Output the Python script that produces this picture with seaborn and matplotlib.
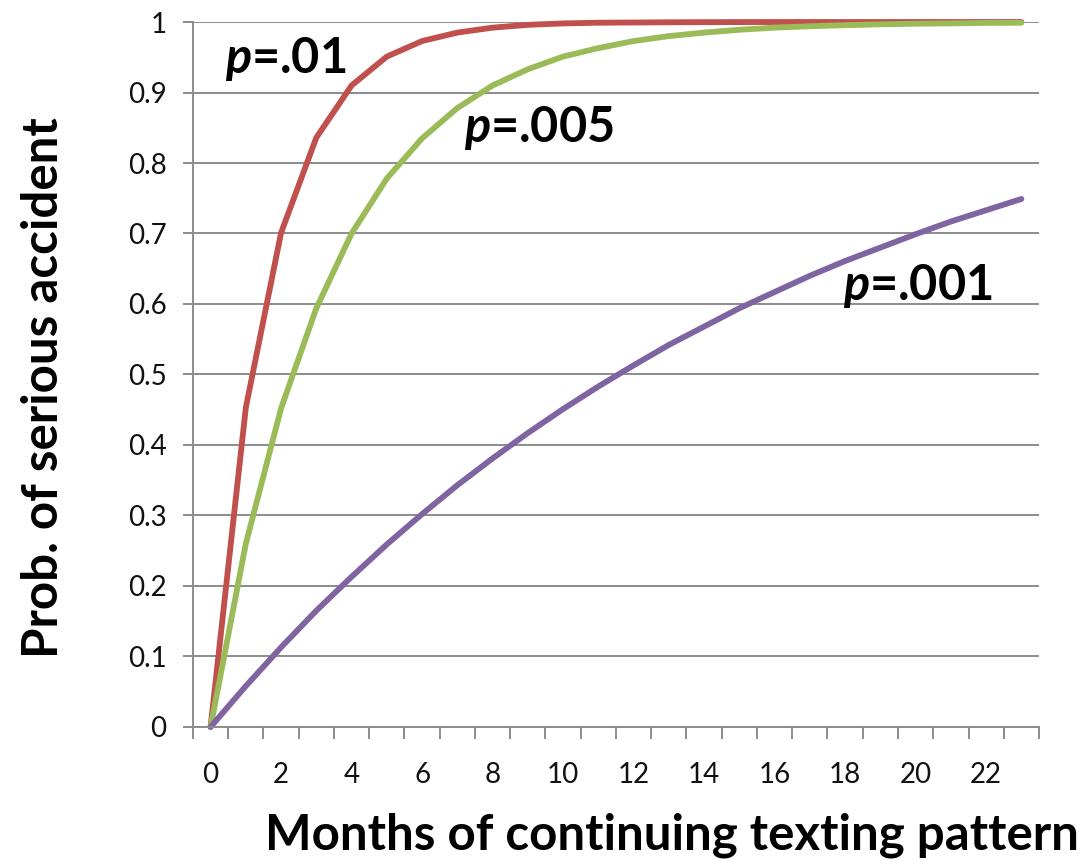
import numpy as np
import pandas as pd
import matplotlib
matplotlib.use("Agg")
import matplotlib.pyplot as plt
import seaborn as sns

months = list(range(24))
p_01 = [0.0, 0.453, 0.701, 0.836, 0.910, 0.951, 0.973, 0.985, 0.992, 0.996, 0.998, 0.999,
        0.9993, 0.9996, 0.9998, 0.9999, 1.0, 1.0, 1.0, 1.0, 1.0, 1.0, 1.0, 1.0]
p_005 = [0.0, 0.260, 0.452, 0.594, 0.700, 0.778, 0.835, 0.878, 0.910, 0.933, 0.951, 0.963,
         0.973, 0.980, 0.985, 0.989, 0.992, 0.994, 0.9955, 0.9967, 0.9976, 0.998, 0.9987, 0.999]
p_001 = [0.0, 0.058, 0.113, 0.165, 0.213, 0.259, 0.302, 0.343, 0.381, 0.417, 0.451, 0.483,
         0.513, 0.542, 0.568, 0.594, 0.617, 0.640, 0.661, 0.680, 0.699, 0.717, 0.733, 0.749]
series_names = ["p=.01", "p=.005", "p=.001"]
colors = ["#C0504D", "#9BBB59", "#8064A2"]
y_ticks = [0, 0.1, 0.2, 0.3, 0.4, 0.5, 0.6, 0.7, 0.8, 0.9, 1.0]
y_tick_labels = ["0", "0.1", "0.2", "0.3", "0.4", "0.5", "0.6", "0.7", "0.8", "0.9", "1"]
x_tick_labels = [str(m) for m in months if m % 2 == 0]

df = pd.DataFrame({
    "month": months * 3,
    "prob": p_01 + p_005 + p_001,
    "series": [series_names[0]] * 24 + [series_names[1]] * 24 + [series_names[2]] * 24,
})

sns.set_theme(style="white")
plt.rcParams["font.family"] = ["Lato", "DejaVu Sans"]
plt.rcParams["mathtext.fontset"] = "custom"
plt.rcParams["mathtext.it"] = "Lato:italic:bold"
plt.rcParams["mathtext.rm"] = "Lato:bold"

fig = plt.figure(figsize=(10.84, 8.6), dpi=100)
ax = fig.add_axes([0.178, 0.1547, 0.7805, 0.8197])

sns.lineplot(data=df, x="month", y="prob", hue="series", palette=colors,
             hue_order=series_names, linewidth=4.2, ax=ax, legend=False)
for line in ax.lines:
    line.set_clip_on(False)
    line.set_solid_capstyle("round")
    line.set_solid_joinstyle("round")

grid_col = "#8C8C8C"
ax.set_xlim(-0.5, 23.5)
ax.set_ylim(0, 1)
ax.set_yticks(y_ticks)
ax.set_yticklabels(y_tick_labels)
ax.yaxis.grid(True, color=grid_col, linewidth=1.4)
ax.set_axisbelow(True)

ax.set_xticks(np.arange(-0.5, 24, 1))
ax.set_xticklabels([])
ax.set_xticks([m for m in months if m % 2 == 0], minor=True)
ax.set_xticklabels(x_tick_labels, minor=True)

ax.tick_params(axis="x", which="major", direction="out", length=8.5, width=1.4, color=grid_col, bottom=True)
ax.tick_params(axis="x", which="minor", length=0, pad=25, labelsize=20, labelcolor="#111111", bottom=True)
ax.tick_params(axis="y", direction="out", length=7, width=1.4, color=grid_col, pad=12,
               labelsize=20, labelcolor="#111111", left=True)

for s in ["top", "right"]:
    ax.spines[s].set_visible(False)
for s in ["left", "bottom"]:
    ax.spines[s].set_color(grid_col)
    ax.spines[s].set_linewidth(1.4)

ax.set_xlabel("Months of continuing texting pattern", fontsize=35.5, fontweight="bold", color="black")
ax.xaxis.set_label_coords(0.566, -0.122)
ax.set_ylabel("Prob. of serious accident", fontsize=35.5, fontweight="bold", color="black")
ax.yaxis.set_label_coords(-0.150, 0.482)

ax.text(0.42, 0.928, r"$p$=.01", fontsize=35, fontweight="bold", ha="left", va="baseline", color="black")
ax.text(7.2, 0.830, r"$p$=.005", fontsize=35, fontweight="bold", ha="left", va="baseline", color="black")
ax.text(17.95, 0.606, r"$p$=.001", fontsize=35, fontweight="bold", ha="left", va="baseline", color="black")

fig.savefig("out.png", dpi=100)
